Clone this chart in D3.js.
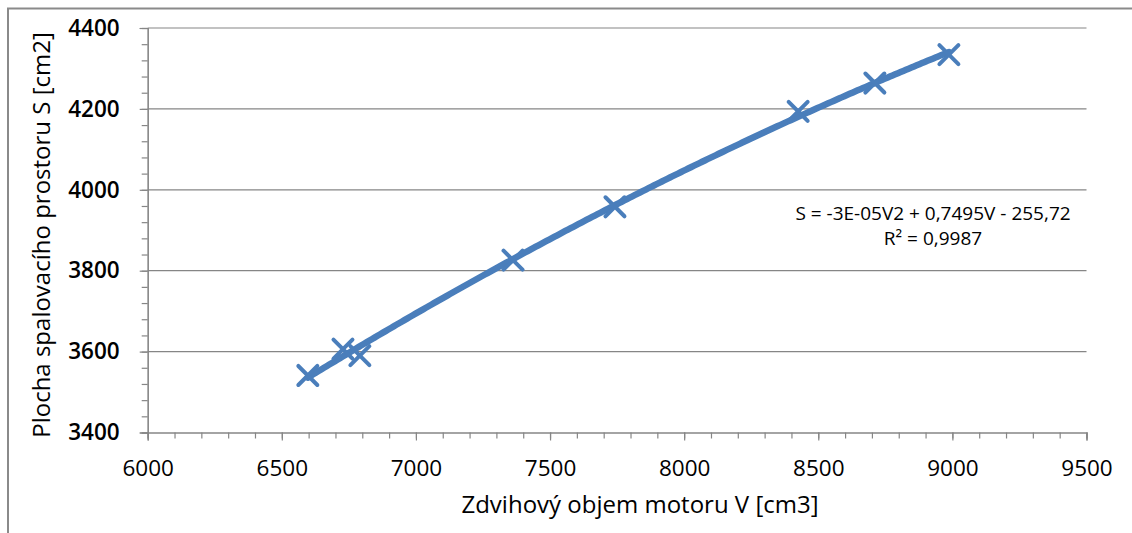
<!DOCTYPE html>
<html>
<head>
<meta charset="utf-8">
<script src="https://cdn.jsdelivr.net/npm/d3@7"></script>
<style>
  html, body { margin: 0; padding: 0; background: #fff; }
  svg { display: block; }
  text { font-family: "Open Sans", "DejaVu Sans", sans-serif; fill: #000; }
</style>
</head>
<body>
<svg width="1132" height="533"></svg>
<script>
// measured points: engine displacement V [cm3] vs combustion chamber area S [cm2]
const volume = [6597, 6728, 6791, 7362, 7742, 8425, 8711, 8987];
const area = [3541, 3606, 3590, 3826, 3958, 4194, 4264, 4334];

const xTicks = [6000, 6500, 7000, 7500, 8000, 8500, 9000, 9500];
const yTicks = [3400, 3600, 3800, 4000, 4200, 4400];
const xTitle = "Zdvihový objem motoru V [cm3]";
const yTitle = "Plocha spalovacího prostoru S [cm2]";
const equation = ["S = -3E-05V2 + 0,7495V - 255,72", "R² = 0,9987"];

// least squares quadratic fit (the polynomial trendline)
const fitQuadratic = function(xs, ys) {
  const n = xs.length;
  const mx = d3.mean(xs);
  const u = xs.map(x => (x - mx) / 1000);
  const s = k => d3.sum(u, v => Math.pow(v, k));
  const t = k => d3.sum(u, (v, i) => Math.pow(v, k) * ys[i]);
  const m = [
    [n, s(1), s(2), t(0)],
    [s(1), s(2), s(3), t(1)],
    [s(2), s(3), s(4), t(2)]
  ];
  for (let i = 0; i < 3; i++) {
    for (let j = i + 1; j < 3; j++) {
      const f = m[j][i] / m[i][i];
      for (let k = i; k < 4; k++) m[j][k] -= f * m[i][k];
    }
  }
  const c = [0, 0, 0];
  for (let i = 2; i >= 0; i--) {
    let v = m[i][3];
    for (let k = i + 1; k < 3; k++) v -= m[i][k] * c[k];
    c[i] = v / m[i][i];
  }
  return x => {
    const w = (x - mx) / 1000;
    return c[0] + c[1] * w + c[2] * w * w;
  };
};

const main = function() {
  const svg = d3.select("svg");
  const left = 147.7, right = 1086.5, top = 28, bottom = 432.5;
  const blue = "#4a7ebb";
  const grey = "#868686";

  // outer chart frame (only top and left edges are visible)
  svg.append("rect")
    .attr("x", 8).attr("y", 8.5)
    .attr("width", 1200).attr("height", 600)
    .attr("fill", "none")
    .attr("stroke", "#8a8a8a")
    .attr("stroke-width", 2);

  const x = d3.scaleLinear().domain([6000, 9500]).range([left, right]);
  const y = d3.scaleLinear().domain([3400, 4400]).range([bottom, top]);

  // gridlines
  svg.append("g")
    .selectAll("line")
    .data(yTicks.slice(1))
    .enter()
    .append("line")
    .attr("x1", left).attr("x2", right)
    .attr("y1", d => y(d)).attr("y2", d => y(d))
    .attr("stroke", grey)
    .attr("stroke-width", 1.2);

  // minor ticks
  const xMinor = d3.range(6000, 9501, 100);
  const yMinor = d3.range(3400, 4401, 40);
  svg.append("g")
    .attr("transform", `translate(0,${bottom})`)
    .call(d3.axisBottom(x).tickValues(xMinor).tickSize(6).tickFormat(""))
    .call(g => g.selectAll("line,path").attr("stroke", grey).attr("stroke-width", 1.2));
  svg.append("g")
    .attr("transform", `translate(${left},0)`)
    .call(d3.axisLeft(y).tickValues(yMinor).tickSize(6).tickFormat(""))
    .call(g => g.selectAll("line,path").attr("stroke", grey).attr("stroke-width", 1.2));

  // major ticks and labels
  svg.append("g")
    .attr("transform", `translate(0,${bottom})`)
    .call(d3.axisBottom(x).tickValues(xTicks).tickSize(8).tickFormat(d3.format("d")))
    .call(g => g.select(".domain").attr("stroke", grey).attr("stroke-width", 1.2))
    .call(g => g.selectAll("line").attr("stroke", grey).attr("stroke-width", 1.2))
    .call(g => g.selectAll("text")
      .attr("y", 43)
      .attr("dy", null)
      .style("font-family", "'Open Sans', sans-serif")
      .style("font-size", "22.5px"));
  svg.append("g")
    .attr("transform", `translate(${left},0)`)
    .call(d3.axisLeft(y).tickValues(yTicks).tickSize(8).tickPadding(20).tickFormat(d3.format("d")))
    .call(g => g.select(".domain").attr("stroke", grey).attr("stroke-width", 1.2))
    .call(g => g.selectAll("line").attr("stroke", grey).attr("stroke-width", 1.2))
    .call(g => g.selectAll("text")
      .style("font-family", "'Open Sans', sans-serif")
      .style("font-size", "22.5px")
      .style("font-weight", 600));

  // trendline
  const fit = fitQuadratic(volume, area);
  const vs = d3.range(d3.min(volume), d3.max(volume) + 1, 10);
  const line = d3.line().x(d => x(d)).y(d => y(fit(d)));
  svg.append("path")
    .datum(vs)
    .attr("d", line)
    .attr("fill", "none")
    .attr("stroke", blue)
    .attr("stroke-width", 6.5)
    .attr("stroke-linecap", "round");

  // markers
  const r = 9.5;
  const pts = volume.map((v, i) => [v, area[i]]);
  svg.append("g")
    .selectAll("path")
    .data(pts)
    .enter()
    .append("path")
    .attr("d", d => {
      const cx = x(d[0]), cy = y(d[1]);
      return `M${cx - r},${cy - r}L${cx + r},${cy + r}M${cx - r},${cy + r}L${cx + r},${cy - r}`;
    })
    .attr("stroke", blue)
    .attr("stroke-width", 4)
    .attr("stroke-linecap", "round");

  // trendline label
  svg.append("g")
    .selectAll("text")
    .data(equation)
    .enter()
    .append("text")
    .attr("x", 933)
    .attr("y", (d, i) => 220 + i * 25)
    .attr("text-anchor", "middle")
    .style("font-size", "19px")
    .text(d => d);

  // axis titles
  svg.append("text")
    .attr("x", 640)
    .attr("y", 513)
    .attr("text-anchor", "middle")
    .style("font-size", "24px")
    .text(xTitle);
  svg.append("text")
    .attr("transform", "translate(50,235) rotate(-90)")
    .attr("text-anchor", "middle")
    .style("font-size", "24px")
    .text(yTitle);
};

window.onload = main;
</script>
</body>
</html>
